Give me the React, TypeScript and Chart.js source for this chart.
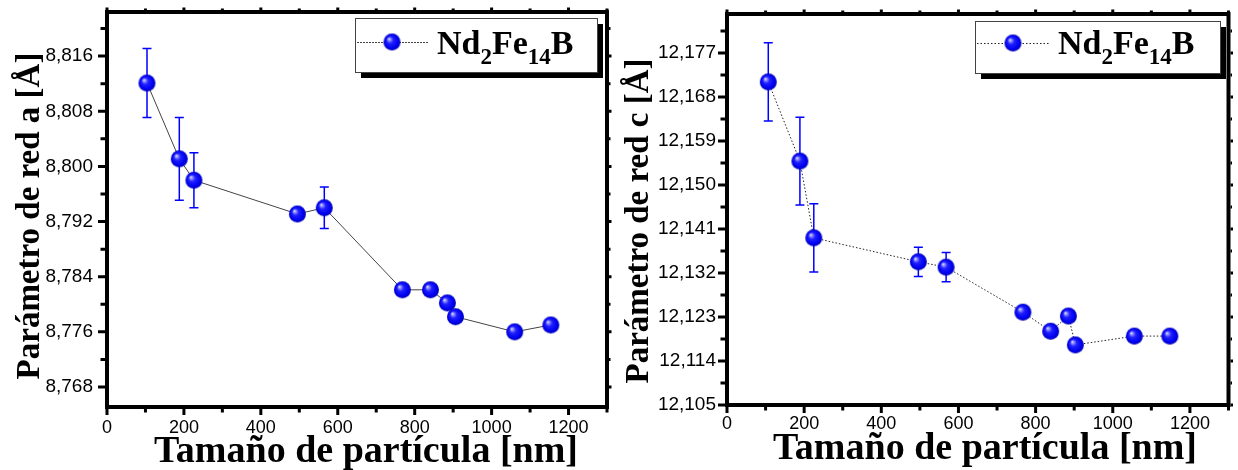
import React, { useEffect, useRef } from 'react';
import { Chart, registerables } from 'chart.js';
Chart.register(...registerables);

// ---------- data ----------
const sizesA = [104, 188, 226, 495, 565, 768, 841, 885, 906, 1060, 1154];
const latticeA = [8.8121, 8.8011, 8.798, 8.7931, 8.794, 8.7821, 8.7821, 8.7802, 8.7782, 8.776, 8.777];
const errA = [0.005, 0.006, 0.004, 0, 0.003, 0, 0, 0, 0, 0, 0];

const sizesC = [107, 189, 225, 496, 568, 767, 839, 885, 903, 1056, 1148];
const latticeC = [12.1711, 12.1549, 12.1392, 12.1343, 12.1332, 12.124, 12.1201, 12.1232, 12.1173, 12.1191, 12.1191];
const errC = [0.008, 0.009, 0.007, 0.003, 0.003, 0, 0, 0, 0, 0, 0];

const xTicks = [0, 200, 400, 600, 800, 1000, 1200];
const yTicksA = [8.768, 8.776, 8.784, 8.792, 8.8, 8.808, 8.816];
const yTicksC = [12.105, 12.114, 12.123, 12.132, 12.141, 12.15, 12.159, 12.168, 12.177];

const xTitle = 'Tamaño de partícula [nm]';
const yTitleA = 'Parámetro de red a [Å]';
const yTitleC = 'Parámetro de red c [Å]';
const legendParts: [string, boolean][] = [['Nd', false], ['2', true], ['Fe', false], ['14', true], ['B', false]];

const SERIF = '"Liberation Serif", "Times New Roman", serif';
const SANS = '"Liberation Sans", Arial, sans-serif';

type Panel = {
  xs: number[]; ys: number[]; errs: number[];
  xMax: number; yMin: number; yMax: number; yTicks: number[]; yTitle: string;
  lineDash: number[]; lineColor: string;
  top: number; right: number; yWidth: number; xHeight: number; yLabelPad: number; xLabelPad: number;
  yTitleBase: number; yTitleCenter: number; xTitleCenter: number; xTitleBase: number;
  legend: { x: number; y: number; w: number; h: number; lx1: number; lx2: number; ly: number; mx: number; tx: number; tb: number };
};

const panelA: Panel = {
  xs: sizesA, ys: latticeA, errs: errA,
  xMax: 1300, yMin: 8.7651, yMax: 8.8224, yTicks: yTicksA, yTitle: yTitleA,
  lineDash: [], lineColor: '#444',
  top: 12, right: 12, yWidth: 107, xHeight: 63, yLabelPad: 14, xLabelPad: 10,
  yTitleBase: 39, yTitleCenter: 216, xTitleCenter: 366, xTitleBase: 462,
  legend: { x: 355, y: 18, w: 242, h: 54, lx1: 357, lx2: 428, ly: 42, mx: 392, tx: 437, tb: 54 },
};

const panelC: Panel = {
  xs: sizesC, ys: latticeC, errs: errC,
  xMax: 1300, yMin: 12.105, yMax: 12.185, yTicks: yTicksC, yTitle: yTitleC,
  lineDash: [1.5, 2], lineColor: '#222',
  top: 14, right: 5, yWidth: 108, xHeight: 65, yLabelPad: 11, xLabelPad: 8,
  yTitleBase: 29, yTitleCenter: 221, xTitleCenter: 366, xTitleBase: 459,
  legend: { x: 356, y: 21, w: 245, h: 52, lx1: 358, lx2: 430, ly: 43, mx: 394, tx: 439, tb: 54 },
};

function makeSphere(r: number): HTMLCanvasElement {
  const c = document.createElement('canvas');
  const s = Math.ceil(r * 2) + 2;
  c.width = s;
  c.height = s;
  const g = c.getContext('2d')!;
  const cx = s / 2, cy = s / 2;
  const grad = g.createRadialGradient(cx - r * 0.38, cy - r * 0.38, 0, cx, cy, r);
  grad.addColorStop(0, '#f4f4ff');
  grad.addColorStop(0.12, '#a8a8ff');
  grad.addColorStop(0.4, '#2020ff');
  grad.addColorStop(0.8, '#0000f0');
  grad.addColorStop(1, '#0000b0');
  g.fillStyle = grad;
  g.beginPath();
  g.arc(cx, cy, r, 0, Math.PI * 2);
  g.fill();
  return c;
}

function makeDecor(p: Panel, sphere: HTMLCanvasElement) {
  return {
    id: 'decor',
    beforeDatasetsDraw(chart: any) {
      const { ctx, scales } = chart;
      const x = scales.x, y = scales.y;
      ctx.save();
      ctx.strokeStyle = '#0000ff';
      ctx.lineWidth = 1.5;
      p.xs.forEach((xv, i) => {
        const e = p.errs[i];
        if (!e) return;
        const px = x.getPixelForValue(xv);
        const y1 = y.getPixelForValue(p.ys[i] + e);
        const y2 = y.getPixelForValue(p.ys[i] - e);
        ctx.beginPath();
        ctx.moveTo(px, y1); ctx.lineTo(px, y2);
        ctx.moveTo(px - 4.5, y1); ctx.lineTo(px + 4.5, y1);
        ctx.moveTo(px - 4.5, y2); ctx.lineTo(px + 4.5, y2);
        ctx.stroke();
      });
      ctx.restore();
    },
    afterDraw(chart: any) {
      const { ctx, chartArea: a, scales } = chart;
      const x = scales.x, y = scales.y;
      ctx.save();
      // frame
      ctx.strokeStyle = '#000';
      ctx.lineWidth = 4;
      ctx.strokeRect(a.left, a.top, a.right - a.left, a.bottom - a.top);
      // ticks
      ctx.lineWidth = 3;
      ctx.lineCap = 'butt';
      const xStep = xTicks[1] - xTicks[0];
      const xAll: [number, boolean][] = [];
      for (let v = 0; v <= p.xMax + 1e-9; v += xStep / 2) xAll.push([v, Math.abs(v / xStep - Math.round(v / xStep)) < 1e-6]);
      const yStep = p.yTicks[1] - p.yTicks[0];
      const yAll: [number, boolean][] = [];
      for (let k = -4; k <= 2 * p.yTicks.length + 4; k++) {
        const v = p.yTicks[0] + (k * yStep) / 2;
        if (v < p.yMin - 1e-9 || v > p.yMax + 1e-9) continue;
        yAll.push([v, k % 2 === 0]);
      }
      ctx.beginPath();
      xAll.forEach(([v, major]) => {
        const px = x.getPixelForValue(v);
        ctx.moveTo(px, a.bottom + 2); ctx.lineTo(px, a.bottom + 2 + (major ? 6 : 3.5));
        ctx.moveTo(px, a.top - 2); ctx.lineTo(px, a.top - 2 - (major ? 2.5 : 1.5));
      });
      yAll.forEach(([v, major]) => {
        const py = y.getPixelForValue(v);
        ctx.moveTo(a.left - 2, py); ctx.lineTo(a.left - 2 - (major ? 7 : 4.5), py);
        ctx.moveTo(a.right + 2, py); ctx.lineTo(a.right + 2 + (major ? 2.5 : 1.5), py);
      });
      ctx.stroke();

      // titles
      ctx.fillStyle = '#000';
      ctx.font = `bold 38px ${SERIF}`;
      ctx.textAlign = 'center';
      ctx.textBaseline = 'alphabetic';
      ctx.fillText(xTitle, p.xTitleCenter, p.xTitleBase);
      ctx.save();
      ctx.translate(p.yTitleBase, p.yTitleCenter);
      ctx.rotate(-Math.PI / 2);
      ctx.font = `bold 33px ${SERIF}`;
      ctx.fillText(p.yTitle, 0, 0);
      ctx.restore();

      // legend
      const L = p.legend;
      ctx.fillStyle = '#000';
      ctx.fillRect(L.x + 6, L.y + 6, L.w, L.h);
      ctx.fillStyle = '#fff';
      ctx.fillRect(L.x, L.y, L.w, L.h);
      ctx.strokeStyle = '#444';
      ctx.lineWidth = 1;
      ctx.strokeRect(L.x + 0.5, L.y + 0.5, L.w, L.h);
      ctx.strokeStyle = p.lineColor;
      ctx.setLineDash(p.lineDash.length ? p.lineDash : [2, 1]);
      ctx.beginPath();
      ctx.moveTo(L.lx1, L.ly + 0.5); ctx.lineTo(L.lx2, L.ly + 0.5);
      ctx.stroke();
      ctx.setLineDash([]);
      ctx.drawImage(sphere, L.mx - sphere.width / 2, L.ly - sphere.height / 2);
      ctx.fillStyle = '#000';
      ctx.textAlign = 'left';
      let tx = L.tx;
      legendParts.forEach(([t, sub]) => {
        ctx.font = sub ? `bold 23px ${SERIF}` : `bold 34px ${SERIF}`;
        ctx.fillText(t, tx, sub ? L.tb + 10 : L.tb);
        tx += ctx.measureText(t).width;
      });
      ctx.restore();
    },
  };
}

function PanelChart({ p, left }: { p: Panel; left: number }) {
  const ref = useRef<HTMLCanvasElement>(null);
  useEffect(() => {
    const sphere = makeSphere(8.5);
    const chart = new Chart(ref.current!, {
      type: 'scatter',
      data: {
        datasets: [
          {
            data: p.xs.map((xv, i) => ({ x: xv, y: p.ys[i] })),
            showLine: true,
            borderColor: p.lineColor,
            borderWidth: 1,
            borderDash: p.lineDash,
            pointStyle: sphere as any,
            pointRadius: 8.5,
            pointHoverRadius: 8.5,
          } as any,
        ],
      },
      options: {
        responsive: false,
        animation: false,
        devicePixelRatio: 1,
        events: [],
        layout: { padding: { left: 0, top: p.top, right: p.right, bottom: 0 } },
        plugins: { legend: { display: false }, tooltip: { enabled: false }, title: { display: false } },
        scales: {
          x: {
            type: 'linear',
            min: 0,
            max: p.xMax,
            grid: { display: false, drawTicks: false },
            border: { display: false },
            ticks: {
              padding: p.xLabelPad,
              autoSkip: false,
              maxRotation: 0,
              color: '#000',
              font: { family: SANS, size: 18 },
              callback: (v: any) => String(v),
            },
            afterBuildTicks: (s: any) => {
              s.ticks = xTicks.map((v) => ({ value: v }));
            },
            afterFit: (s: any) => {
              s.height = p.xHeight;
              s.paddingLeft = 0;
              s.paddingRight = 0;
            },
          },
          y: {
            type: 'linear',
            min: p.yMin,
            max: p.yMax,
            grid: { display: false, drawTicks: false },
            border: { display: false },
            ticks: {
              padding: p.yLabelPad,
              autoSkip: false,
              color: '#000',
              font: { family: SANS, size: 19 },
              callback: (v: any) => Number(v).toFixed(3).replace('.', ','),
            },
            afterBuildTicks: (s: any) => {
              s.ticks = p.yTicks.map((v) => ({ value: v }));
            },
            afterFit: (s: any) => {
              s.width = p.yWidth;
              s.paddingTop = 0;
              s.paddingBottom = 0;
            },
          },
        },
      } as any,
      plugins: [makeDecor(p, sphere)],
    });
    return () => chart.destroy();
  }, []);
  return (
    <canvas
      ref={ref}
      width={619}
      height={470}
      style={{ position: 'absolute', left, top: 0, width: 619, height: 470 }}
    />
  );
}

export default function App() {
  return (
    <div style={{ position: 'fixed', left: 0, top: 0, width: 1238, height: 470, background: '#fff' }}>
      <PanelChart p={panelA} left={0} />
      <PanelChart p={panelC} left={619} />
    </div>
  );
}
